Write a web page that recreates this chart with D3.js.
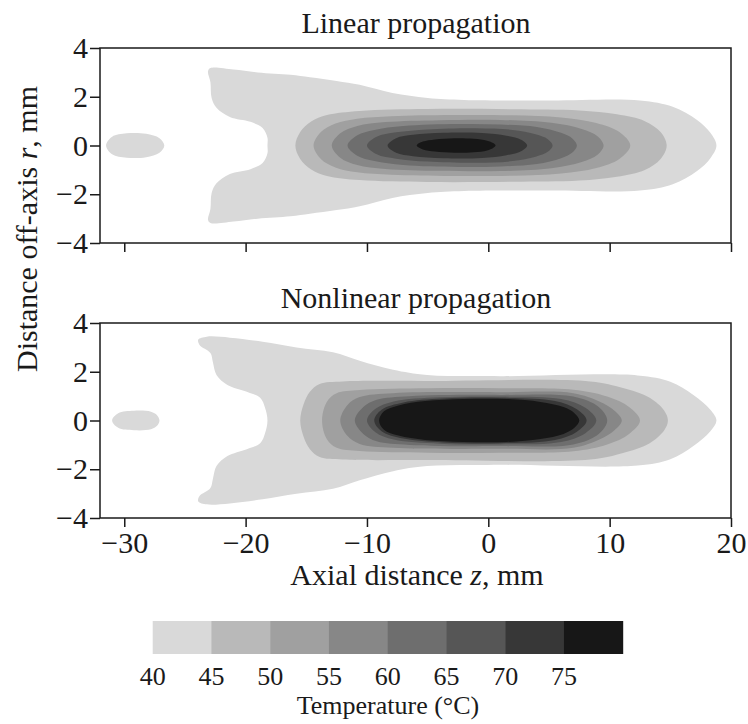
<!DOCTYPE html>
<html>
<head>
<meta charset="utf-8">
<script src="https://cdn.jsdelivr.net/npm/d3@7"></script>
<style>
  html, body { margin: 0; padding: 0; background: #fff; }
  svg { display: block; font-family: "Liberation Serif", "DejaVu Serif", serif; }
</style>
</head>
<body>
<div id="chart"></div>
<script>
// ---- data ----
const zTicks = [-30, -20, -10, 0, 10, 20];
const rTicks = [-4, -2, 0, 2, 4];
const levels = [40, 45, 50, 55, 60, 65, 70, 75];
const levelMax = 80;

// upper half of each isotherm as [z (mm), r (mm)], left tip to right tip;
// the lower half is drawn as its mirror image
const linearIsotherms = [
  { level: 40, profile: [[-31.5, 0], [-31.0, 0.36], [-29.8, 0.5], [-28.2, 0.48], [-27.1, 0.3], [-26.7, 0]] },
  { level: 40, profile: [[-18.2, 0], [-18.2, 0.32], [-18.6, 0.72], [-19.6, 0.97], [-21.3, 1.17], [-22.4, 1.55],
      [-22.8, 1.95], [-22.9, 2.6], [-23.1, 3.05], [-22.9, 3.18], [-21.0, 3.12], [-19.0, 3.0], [-16.3, 2.9],
      [-14.7, 2.8], [-12.5, 2.65], [-10.6, 2.49], [-7.9, 2.15], [-5.0, 1.95], [-2.0, 1.87], [5.0, 1.85],
      [12.5, 1.85], [15.2, 1.59], [17.2, 1.05], [18.3, 0.52], [18.8, 0]] },
  { level: 45, profile: [[-15.9, 0], [-15.5, 0.55], [-14.6, 0.98], [-13.3, 1.25], [-10.6, 1.42], [-5.0, 1.5],
      [2.0, 1.49], [7.5, 1.44], [10.6, 1.28], [12.9, 1.0], [14.2, 0.55], [14.7, 0]] },
  { level: 50, profile: [[-14.4, 0], [-13.8, 0.55], [-12.6, 0.9], [-10.8, 1.1], [-8.0, 1.2], [-3.0, 1.25],
      [2.0, 1.24], [6.0, 1.15], [8.9, 0.92], [10.8, 0.55], [11.7, 0]] },
  { level: 55, profile: [[-12.9, 0], [-12.2, 0.5], [-10.8, 0.8], [-8.5, 0.96], [-4.0, 1.04], [1.0, 1.05],
      [5.2, 0.93], [7.7, 0.68], [9.0, 0.38], [9.5, 0]] },
  { level: 60, profile: [[-11.6, 0], [-10.8, 0.42], [-9.4, 0.64], [-7.0, 0.8], [-2.5, 0.88], [1.0, 0.86],
      [4.0, 0.76], [6.0, 0.52], [6.9, 0.3], [7.3, 0]] },
  { level: 65, profile: [[-10.0, 0], [-9.2, 0.36], [-7.6, 0.54], [-5.0, 0.66], [-1.0, 0.71], [2.0, 0.64],
      [3.9, 0.46], [4.9, 0.26], [5.3, 0]] },
  { level: 70, profile: [[-8.3, 0], [-7.6, 0.3], [-6.2, 0.44], [-3.7, 0.52], [-0.5, 0.51], [1.5, 0.4],
      [2.7, 0.24], [3.2, 0]] },
  { level: 75, profile: [[-5.9, 0], [-5.4, 0.16], [-4.4, 0.25], [-2.8, 0.3], [-1.2, 0.28], [-0.1, 0.2],
      [0.4, 0.1], [0.6, 0]] }
];

const nonlinearIsotherms = [
  { level: 40, profile: [[-31.0, 0], [-30.5, 0.3], [-29.2, 0.4], [-27.8, 0.36], [-27.3, 0.22], [-27.1, 0]] },
  { level: 40, profile: [[-18.2, 0], [-18.4, 0.52], [-18.8, 0.93], [-19.9, 1.18], [-21.5, 1.46], [-22.4, 1.87],
      [-22.7, 2.4], [-22.9, 2.77], [-23.8, 3.1], [-23.9, 3.32], [-23.2, 3.44], [-21.3, 3.4], [-18.6, 3.23],
      [-15.8, 3.0], [-12.8, 2.8], [-10.6, 2.45], [-7.85, 2.08], [-5.05, 1.87], [1.0, 1.82], [12.3, 1.85],
      [15.0, 1.59], [16.9, 1.05], [18.3, 0.44], [18.8, 0]] },
  { level: 45, profile: [[-15.5, 0], [-15.2, 0.7], [-14.7, 1.18], [-13.9, 1.5], [-12.0, 1.6], [-5.0, 1.62],
      [8.4, 1.6], [11.1, 1.33], [13.3, 0.93], [14.5, 0.4], [14.8, 0]] },
  { level: 50, profile: [[-13.7, 0], [-13.3, 0.77], [-12.5, 1.12], [-10.6, 1.25], [-5.0, 1.32], [1.0, 1.32],
      [7.0, 1.26], [9.8, 0.98], [11.6, 0.55], [12.5, 0]] },
  { level: 55, profile: [[-12.2, 0], [-11.6, 0.64], [-10.6, 0.96], [-7.85, 1.12], [1.0, 1.16], [7.0, 1.12],
      [9.2, 0.77], [10.4, 0.4], [11.0, 0]] },
  { level: 60, profile: [[-11.0, 0], [-10.3, 0.55], [-9.2, 0.85], [-6.5, 1.0], [1.0, 1.05], [7.0, 0.98],
      [9.1, 0.55], [9.8, 0]] },
  { level: 65, profile: [[-10.0, 0], [-9.3, 0.48], [-7.8, 0.78], [-4.0, 0.95], [1.0, 0.98], [6.0, 0.88],
      [8.0, 0.52], [8.9, 0]] },
  { level: 70, profile: [[-9.4, 0], [-8.8, 0.44], [-7.0, 0.74], [-3.7, 0.9], [1.0, 0.93], [5.5, 0.8],
      [7.3, 0.46], [8.1, 0]] },
  { level: 75, profile: [[-9.0, 0], [-8.6, 0.38], [-7.4, 0.62], [-5.2, 0.8], [-2.0, 0.88], [1.5, 0.88],
      [4.3, 0.76], [6.2, 0.55], [7.1, 0.3], [7.5, 0]] }
];

const panels = [
  { title: 'Linear propagation', isotherms: linearIsotherms },
  { title: 'Nonlinear propagation', isotherms: nonlinearIsotherms }
];

// ---- layout ----
const width = 748;
const height = 724;
const plotLeft = 100;
const plotRight = 731;
const panelBoxes = [
  { top: 48, bottom: 243 },
  { top: 323, bottom: 518 }
];
const grays = ['#d9d9d9', '#b9b9b9', '#a0a0a0', '#878787', '#6e6e6e', '#565656', '#373737', '#171717'];
const ink = '#1a1a1a';
const mainFont = 30;
const legendFont = 26;

const svg = d3.select('#chart')
  .append('svg')
  .attr('width', width)
  .attr('height', height);

const x = d3.scaleLinear().domain([-32, 20]).range([plotLeft, plotRight]);
const fill = d3.scaleOrdinal().domain(levels).range(grays);

// closes the upper half outline with its mirror below the axis
function outline(profile) {
  const lower = profile.slice(1, -1).reverse().map(([z, r]) => [z, -r]);
  return profile.concat(lower);
}

panels.forEach((panel, i) => {
  const box = panelBoxes[i];
  const y = d3.scaleLinear().domain([-4, 4]).range([box.bottom, box.top]);
  const g = svg.append('g');

  const clipId = `clip-${i}`;
  svg.append('clipPath').attr('id', clipId)
    .append('rect')
    .attr('x', plotLeft).attr('y', box.top)
    .attr('width', plotRight - plotLeft).attr('height', box.bottom - box.top);

  const line = d3.line()
    .x(d => x(d[0]))
    .y(d => y(d[1]))
    .curve(d3.curveCatmullRomClosed.alpha(0.5));

  // isotherms, coolest first so warmer ones sit on top
  g.append('g')
    .attr('clip-path', `url(#${clipId})`)
    .selectAll('path')
    .data(panel.isotherms.slice().sort((a, b) => a.level - b.level))
    .join('path')
    .attr('d', d => line(outline(d.profile)))
    .attr('fill', d => fill(d.level))
    .attr('stroke', 'none');

  // frame
  g.append('rect')
    .attr('x', plotLeft).attr('y', box.top)
    .attr('width', plotRight - plotLeft).attr('height', box.bottom - box.top)
    .attr('fill', 'none')
    .attr('stroke', ink)
    .attr('stroke-width', 1.5);

  // r axis
  const yAxis = g.append('g')
    .attr('transform', `translate(${plotLeft},0)`)
    .call(d3.axisLeft(y).tickValues(rTicks).tickSize(10).tickPadding(2));
  yAxis.select('.domain').remove();
  yAxis.selectAll('.tick line').attr('stroke', ink).attr('stroke-width', 1.5);
  yAxis.selectAll('.tick text')
    .attr('fill', ink)
    .style('font-size', `${mainFont}px`)
    .style('font-family', '"Liberation Serif", serif');

  // z axis (labels only on the lower panel)
  const xAxis = g.append('g')
    .attr('transform', `translate(0,${box.bottom})`)
    .call(d3.axisBottom(x).tickValues(zTicks).tickSize(9).tickPadding(5));
  xAxis.select('.domain').remove();
  xAxis.selectAll('.tick line').attr('stroke', ink).attr('stroke-width', 1.5);
  xAxis.selectAll('.tick text')
    .attr('fill', ink)
    .style('font-size', `${mainFont}px`)
    .style('font-family', '"Liberation Serif", serif');
  if (i === 0) xAxis.selectAll('.tick text').remove();

  // panel title
  svg.append('text')
    .attr('x', 416)
    .attr('y', box.top - 15)
    .attr('text-anchor', 'middle')
    .attr('fill', ink)
    .style('font-size', `${mainFont}px`)
    .text(panel.title);
});

// axis labels
const zLabel = svg.append('text')
  .attr('x', 417)
  .attr('y', 585)
  .attr('text-anchor', 'middle')
  .attr('fill', ink)
  .style('font-size', `${mainFont}px`);
zLabel.append('tspan').text('Axial distance ');
zLabel.append('tspan').style('font-style', 'italic').text('z');
zLabel.append('tspan').text(', mm');

const rLabel = svg.append('text')
  .attr('transform', 'translate(37,229) rotate(-90)')
  .attr('text-anchor', 'middle')
  .attr('fill', ink)
  .style('font-size', `${mainFont}px`);
rLabel.append('tspan').text('Distance off-axis ');
rLabel.append('tspan').style('font-style', 'italic').text('r');
rLabel.append('tspan').text(', mm');

// ---- colour bar ----
const legendX = d3.scaleLinear().domain([levels[0], levelMax]).range([152.7, 622.7]);
const legendTop = 621;
const legendHeight = 33;
const legend = svg.append('g');

legend.selectAll('rect')
  .data(levels)
  .join('rect')
  .attr('x', d => legendX(d))
  .attr('y', legendTop)
  .attr('width', d => legendX(d + 5) - legendX(d) + 0.5)
  .attr('height', legendHeight)
  .attr('fill', d => fill(d));

legend.selectAll('text.level')
  .data(levels)
  .join('text')
  .attr('class', 'level')
  .attr('x', d => legendX(d))
  .attr('y', 685)
  .attr('text-anchor', 'middle')
  .attr('fill', ink)
  .style('font-size', `${legendFont}px`)
  .text(d => d);

legend.append('text')
  .attr('x', 388)
  .attr('y', 714)
  .attr('text-anchor', 'middle')
  .attr('fill', ink)
  .style('font-size', `${legendFont}px`)
  .text('Temperature (°C)');
</script>
</body>
</html>
